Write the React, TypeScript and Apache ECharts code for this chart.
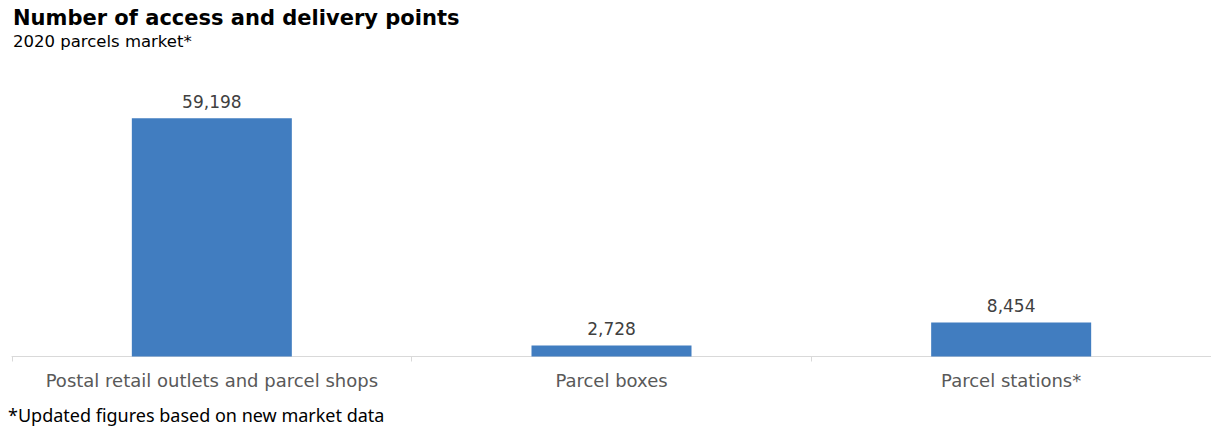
import React, { useEffect, useRef } from "react";
import * as echarts from "echarts";

const categories = ["Postal retail outlets and parcel shops", "Parcel boxes", "Parcel stations*"];
const values = [59198, 2728, 8454];
const titleText = "Number of access and delivery points";
const subtitleText = "2020 parcels market*";
const footnoteText = "*Updated figures based on new market data";

export default function App() {
  const ref = useRef<HTMLDivElement>(null);
  useEffect(() => {
    const chart = echarts.init(ref.current!, null, { renderer: "svg" });
    chart.setOption({
      animation: false,
      backgroundColor: "#ffffff",
      title: [
        {
          text: titleText,
          left: 13,
          top: 7,
          padding: 0,
          textStyle: { fontFamily: "DejaVu Sans", fontWeight: "bold", fontSize: 21, color: "#000" },
        },
        {
          text: subtitleText,
          left: 13,
          top: 33,
          padding: 0,
          textStyle: { fontFamily: "DejaVu Sans", fontWeight: "normal", fontSize: 16.5, color: "#000" },
        },
        {
          text: footnoteText,
          left: 8,
          top: 406,
          padding: 0,
          textStyle: { fontFamily: "Noto Sans", fontWeight: "normal", fontSize: 18, color: "#000" },
        },
      ],
      grid: { left: 12, width: 1204.5, top: 115, bottom: 77.5, containLabel: false },
      xAxis: {
        type: "category",
        data: categories,
        axisLine: { lineStyle: { color: "#d9d9d9", width: 1 } },
        axisTick: { show: true, length: 5, lineStyle: { color: "#d9d9d9" }, inside: false },
        axisLabel: {
          interval: 0,
          fontFamily: "DejaVu Sans",
          fontSize: 18,
          color: "#595959",
          margin: 15,
        },
      },
      yAxis: {
        type: "value",
        min: 0,
        max: 60000,
        show: false,
        splitLine: { show: false },
      },
      series: [
        {
          type: "bar",
          data: values,
          barWidth: 160,
          itemStyle: { color: "#417dc0" },
          label: {
            show: true,
            position: "top",
            distance: 8,
            fontFamily: "DejaVu Sans",
            fontSize: 17,
            color: "#404040",
            formatter: (p: any) => Number(p.value).toLocaleString("en-US"),
          },
        },
      ],
    });
    return () => chart.dispose();
  }, []);
  return <div ref={ref} style={{ width: 1211, height: 434, position: "absolute", left: 0, top: 0 }} />;
}
